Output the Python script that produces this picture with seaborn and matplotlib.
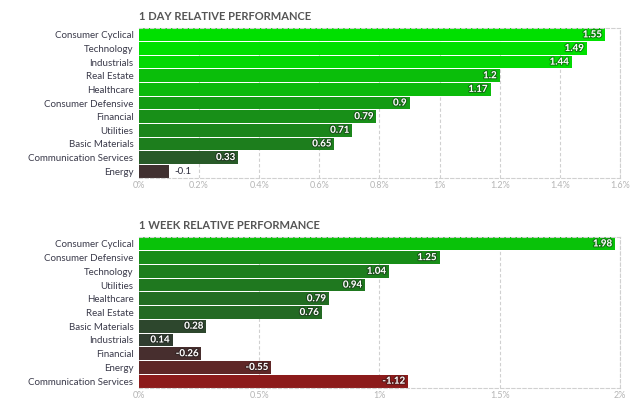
import numpy as np
import matplotlib
matplotlib.use('Agg')
import matplotlib.pyplot as plt
import matplotlib.patheffects as pe
from matplotlib.colors import LinearSegmentedColormap
import seaborn as sns

# data
day_sectors = ['Consumer Cyclical', 'Technology', 'Industrials', 'Real Estate', 'Healthcare',
               'Consumer Defensive', 'Financial', 'Utilities', 'Basic Materials',
               'Communication Services', 'Energy']
day_values = [1.55, 1.49, 1.44, 1.2, 1.17, 0.9, 0.79, 0.71, 0.65, 0.33, -0.1]
day_ticks = [0, 0.2, 0.4, 0.6, 0.8, 1.0, 1.2, 1.4, 1.6]

week_sectors = ['Consumer Cyclical', 'Consumer Defensive', 'Technology', 'Utilities', 'Healthcare',
                'Real Estate', 'Basic Materials', 'Industrials', 'Financial', 'Energy',
                'Communication Services']
week_values = [1.98, 1.25, 1.04, 0.94, 0.79, 0.76, 0.28, 0.14, -0.26, -0.55, -1.12]
week_ticks = [0, 0.5, 1.0, 1.5, 2.0]

sns.set_style('white')
plt.rcParams['font.family'] = ['Lato', 'DejaVu Sans']

cmap = LinearSegmentedColormap.from_list('perf', ['#f20000', '#333333', '#00e000'])


def draw_panel(ax, sectors, values, ticks, title, scale):
    widths = np.abs(values)
    colors = [cmap(np.clip(v / scale, -1, 1) * 0.5 + 0.5) for v in values]
    sns.barplot(x=widths, y=sectors, hue=sectors, palette=colors, legend=False,
                orient='h', width=0.93, linewidth=0, saturation=1, ax=ax)
    xmax = ticks[-1]
    ax.set_xlim(0, xmax)
    ax.set_ylim(len(sectors) - 0.5, -0.5)
    ax.set_xticks(ticks)
    ax.set_xticklabels([f'{t:g}%' for t in ticks])
    ax.tick_params(axis='x', length=0, pad=2, labelsize=6.5, labelcolor='#b5b5b5')
    ax.tick_params(axis='y', length=0, pad=4, labelsize=7, labelcolor='#3a3a4a')
    ax.set_xlabel('')
    ax.set_ylabel('')
    ax.grid(axis='x', color='#d0d0d0', linestyle=(0, (3, 2)), linewidth=0.8)
    ax.set_axisbelow(True)
    for side in ['top', 'right', 'bottom']:
        ax.spines[side].set_color('#d0d0d0')
        ax.spines[side].set_linestyle((0, (3, 2)))
        ax.spines[side].set_linewidth(0.8)
    ax.spines['left'].set_visible(False)
    ax.set_title(title, loc='left', fontsize=8, fontweight='bold', color='#555555', pad=6)

    for i, (v, w) in enumerate(zip(values, widths)):
        label = f'{v:g}'
        if w / xmax > 0.066:
            ax.text(w - xmax * 0.006, i, label, ha='right', va='center', fontsize=7,
                    fontweight='bold', color='white',
                    path_effects=[pe.withStroke(linewidth=1.6, foreground='#1a1a1a', alpha=0.45)])
        else:
            ax.text(w + xmax * 0.012, i, label, ha='left', va='center', fontsize=7,
                    color='#2a2a3a')


fig = plt.figure(figsize=(6.41, 4.03), dpi=100)
ax1 = fig.add_axes([0.2168, 0.5583, 0.7504, 0.3722])
ax2 = fig.add_axes([0.2168, 0.0372, 0.7504, 0.3747])

draw_panel(ax1, day_sectors, day_values, day_ticks, '1 DAY RELATIVE PERFORMANCE', 1.5)
draw_panel(ax2, week_sectors, week_values, week_ticks, '1 WEEK RELATIVE PERFORMANCE', 2.4)

fig.savefig('out.png', dpi=100)
